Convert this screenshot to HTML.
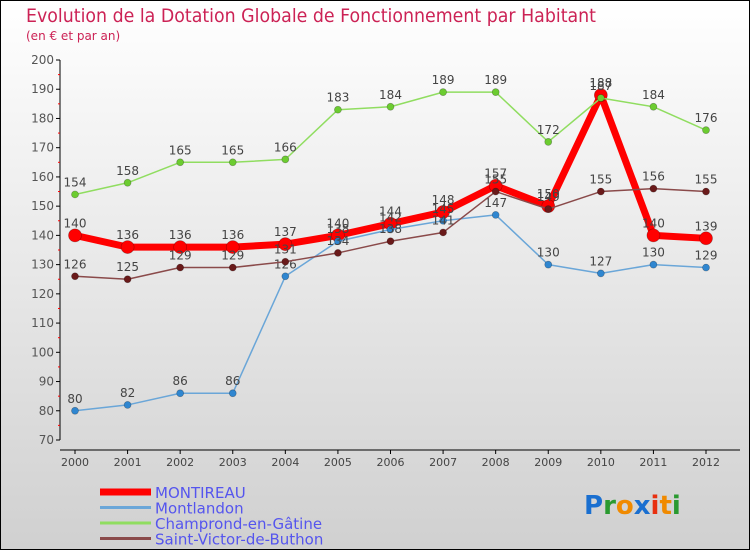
<!DOCTYPE html>
<html><head><meta charset="utf-8"><style>
body{margin:0;width:750px;height:550px;overflow:hidden}
svg{display:block;font-family:"DejaVu Sans","Liberation Sans",sans-serif}
</style></head><body>
<svg id="c" width="750" height="550" viewBox="0 0 750 550" xmlns="http://www.w3.org/2000/svg">
<defs><linearGradient id="bg" x1="0" y1="0" x2="0" y2="1"><stop offset="0" stop-color="#ffffff"/><stop offset="1" stop-color="#d0d0d0"/></linearGradient></defs>
<rect x="0.5" y="0.5" width="749" height="549" fill="url(#bg)" stroke="#000"/>
<text x="26" y="22" font-size="19" fill="#cc2255" textLength="570" lengthAdjust="spacingAndGlyphs">Evolution de la Dotation Globale de Fonctionnement par Habitant</text>
<text x="26" y="40" font-size="12" fill="#cc2255">(en € et par an)</text>
<g id="axes"></g><g id="series"></g><g id="legend"></g>
<text x="584" y="514" font-size="26" font-family="'DejaVu Sans',sans-serif" font-weight="bold"><tspan fill="#1a6fd0">P</tspan><tspan fill="#2a9a30">r</tspan><tspan fill="#f08a00">o</tspan><tspan fill="#1a6fd0">x</tspan><tspan fill="#e83010">i</tspan><tspan fill="#f08a00">t</tspan><tspan fill="#2a9a30">i</tspan></text>
</svg>
<script>
const years=["2000","2001","2002","2003","2004","2005","2006","2007","2008","2009","2010","2011","2012"];
const yTicks=[70,80,90,100,110,120,130,140,150,160,170,180,190,200];
const montireau=[140,136,136,136,137,140,144,148,157,150,188,140,139];
const montlandon=[80,82,86,86,126,138,142,145,147,130,127,130,129];
const champrond=[154,158,165,165,166,183,184,189,189,172,187,184,176];
const saintVictor=[126,125,129,129,131,134,138,141,155,149,155,156,155];
const NS="http://www.w3.org/2000/svg";
const X=i=>75+i*(706-75)/12, Y=v=>440-(v-70)*380/130;
function mk(p,t,a){const e=document.createElementNS(NS,t);for(const k in a)e.setAttribute(k,a[k]);p.appendChild(e);return e;}
const ax=document.getElementById('axes');
let e=mk(ax,'line',{x1:60,y1:60,x2:60,y2:440,stroke:'#000'});


e=mk(ax,'line',{x1:60,y1:450,x2:740,y2:450,stroke:'#000'});


yTicks.forEach((v,i)=>{mk(ax,'line',{x1:56,y1:Y(v),x2:60,y2:Y(v),stroke:'#000'});
 if(i<yTicks.length-1)mk(ax,'line',{x1:58,y1:Y(v+5),x2:60,y2:Y(v+5),stroke:'#f00'});
 const t=mk(ax,'text',{x:54,y:Y(v)+4,'text-anchor':'end','font-size':12,fill:'#555'});t.textContent=v;
 
 });
years.forEach((y,i)=>{mk(ax,'line',{x1:X(i),y1:450,x2:X(i),y2:454,stroke:'#000'});
 const t=mk(ax,'text',{x:X(i),y:466,'text-anchor':'middle','font-size':11,fill:'#444'});t.textContent=y;
 
 });
const sg=document.getElementById('series');
const series=[
 {n:'montireau',d:montireau,c:'#ff0000',w:7,r:6.5,dc:'#ff0000',lab:'MONTIREAU'},
 {n:'montlandon',d:montlandon,c:'#6aa6d8',w:1.5,r:3.5,dc:'#2f86d0',lab:'Montlandon'},
 {n:'champrond',d:champrond,c:'#90dd60',w:1.5,r:3.5,dc:'#6ccc30',lab:'Champrond-en-Gâtine'},
 {n:'saint-victor',d:saintVictor,c:'#8a4a4a',w:1.5,r:3.5,dc:'#6a1a1a',lab:'Saint-Victor-de-Buthon'}];
series.forEach(s=>{
 const g=mk(sg,'g',{});
 
 
 const p=mk(g,'polyline',{points:s.d.map((v,i)=>X(i)+','+Y(v)).join(' '),fill:'none',stroke:s.c,'stroke-width':s.w,'stroke-linejoin':'round'});
 
 
 s.d.forEach((v,i)=>{const c=mk(g,'circle',{cx:X(i),cy:Y(v),r:s.r,fill:s.dc,stroke:'rgba(0,0,0,0.3)','stroke-width':0.7});
  
  
  const t=mk(g,'text',{x:X(i),y:Y(v)-8,'text-anchor':'middle','font-size':12,fill:'#444'});t.textContent=v;
  
  });
});
const lg=document.getElementById('legend');
series.forEach((s,i)=>{const y=492+i*15.5;
 const g=mk(lg,'g',{});
 
 
 mk(g,'line',{x1:100,y1:y,x2:151,y2:y,stroke:s.c,'stroke-width':i==0?7:3});
 const t=mk(g,'text',{x:155,y:y+6,'font-size':15,fill:'#5555ee'});t.textContent=s.lab;});
</script>
</body></html>
